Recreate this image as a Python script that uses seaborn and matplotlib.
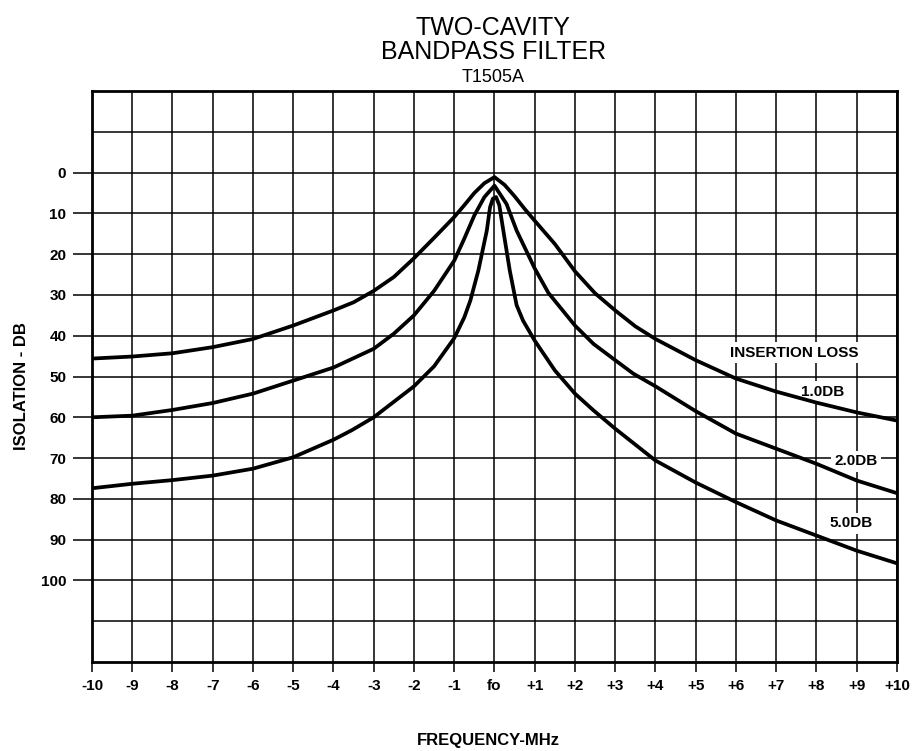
import pandas as pd
import numpy as np
import seaborn as sns
import matplotlib.pyplot as plt

freq_1db = [-10, -9, -8, -7, -6, -5, -4, -3.5, -3, -2.5, -2, -1.5, -1, -0.75, -0.5, -0.25, 0,
            0.25, 0.5, 0.75, 1, 1.5, 2, 2.5, 3, 3.5, 4, 5, 6, 7, 8, 9, 10]
iso_1db = [45.6, 45.1, 44.3, 42.8, 40.8, 37.5, 33.8, 31.8, 29.0, 25.6, 21.0, 16.0, 10.9, 8.0, 5.0, 2.6, 1.1,
           3.0, 5.8, 8.9, 11.8, 17.5, 24.2, 29.6, 33.8, 37.7, 40.8, 46.0, 50.5, 53.7, 56.4, 58.8, 60.8]

freq_2db = [-10, -9, -8, -7, -6, -5, -4, -3, -2.5, -2, -1.5, -1, -0.75, -0.5, -0.25, 0,
            0.3, 0.55, 1, 1.34, 2, 2.46, 3, 3.45, 4, 5, 6, 7, 8, 9, 10]
iso_2db = [60.0, 59.6, 58.2, 56.5, 54.2, 51.0, 47.8, 43.2, 39.5, 35.0, 29.0, 21.6, 16.2, 10.5, 6.0, 3.2,
           7.7, 14.2, 23.5, 29.5, 37.5, 42.0, 46.0, 49.3, 52.4, 58.5, 64.0, 67.7, 71.4, 75.5, 78.6]

freq_5db = [-10, -9, -8, -7, -6, -5, -4, -3.55, -3, -2, -1.5, -1, -0.75, -0.6, -0.4, -0.19, -0.11, -0.04,
            0.04, 0.12, 0.22, 0.38, 0.55, 0.71, 1, 1.5, 2, 2.46, 3, 4, 5, 6, 7, 8, 9, 10]
iso_5db = [77.4, 76.3, 75.4, 74.3, 72.6, 69.8, 65.5, 63.2, 60.0, 52.4, 47.5, 40.6, 35.5, 31.4, 24.0, 14.2, 8.5, 6.4,
           6.0, 8.0, 14.2, 24.0, 32.5, 36.3, 41.2, 48.5, 54.2, 58.3, 62.8, 70.6, 76.0, 80.8, 85.3, 89.0, 92.7, 95.8]

curve_names = ["1.0DB", "2.0DB", "5.0DB"]

x_ticks = list(range(-10, 11))
x_tick_labels = ["-10", "-9", "-8", "-7", "-6", "-5", "-4", "-3", "-2", "-1", "fo",
                 "+1", "+2", "+3", "+4", "+5", "+6", "+7", "+8", "+9", "+10"]
y_ticks = list(range(0, 101, 10))

# **Build long table for seaborn**
data = pd.concat([
    pd.DataFrame({"freq": freq_1db, "iso": iso_1db, "curve": curve_names[0]}),
    pd.DataFrame({"freq": freq_2db, "iso": iso_2db, "curve": curve_names[1]}),
    pd.DataFrame({"freq": freq_5db, "iso": iso_5db, "curve": curve_names[2]}),
], ignore_index=True)

sns.set_style("white")
plt.rcParams['font.family'] = ['Liberation Sans', 'DejaVu Sans']
plt.rcParams['text.color'] = 'black'
plt.rcParams['xtick.color'] = 'black'
plt.rcParams['ytick.color'] = 'black'
plt.rcParams['axes.labelcolor'] = 'black'

fig, ax = plt.subplots(figsize=(9.15, 7.51), dpi=100)
fig.subplots_adjust(left=0.1005, right=0.9803, bottom=0.1185, top=0.8788)

sns.lineplot(data=data, x="freq", y="iso", hue="curve", palette=["black"] * 3,
             linewidth=2.7, legend=False, estimator=None, ax=ax, zorder=3)

ax.set_xlim(-10, 10)
ax.set_ylim(120, -20)
ax.set_axisbelow(True)

ax.set_xticks(x_ticks)
ax.set_xticklabels(x_tick_labels, fontsize=11, fontweight="bold")
ax.set_yticks(y_ticks)
ax.set_yticklabels([str(v) for v in y_ticks], fontsize=11, fontweight="bold")
ax.set_yticks([-10, 110], minor=True)

ax.grid(True, which="both", color="black", linewidth=1.1)
ax.tick_params(axis="x", which="major", direction="out", length=7.5, width=1.1,
               pad=5, bottom=True)
ax.tick_params(axis="y", which="major", direction="out", length=13.5, width=1.1,
               pad=5, left=True)
ax.tick_params(which="minor", length=0)

for side in ax.spines.values():
    side.set_color("black")
    side.set_linewidth(2.0)

ax.set_xlabel("")
ax.set_ylabel("ISOLATION - DB", fontsize=12, fontweight="bold")
ax.yaxis.set_label_coords(-0.078, 0.483)

# **Title block**
fig.text(0.539, 0.9534, "TWO-CAVITY", ha="center", va="baseline", fontsize=18)
fig.text(0.539, 0.921, "BANDPASS FILTER", ha="center", va="baseline", fontsize=18)
fig.text(0.539, 0.8908, "T1505A", ha="center", va="baseline", fontsize=13)
fig.text(0.534, 0.008, "FREQUENCY-MHz", ha="center", va="baseline",
         fontsize=12, fontweight="bold")

# **Curve labels**
box = dict(facecolor="white", edgecolor="none", pad=2.5)
ax.text(7.44, 44.2, "INSERTION LOSS", ha="center", va="center", fontsize=11,
        fontweight="bold", bbox=box, zorder=2.5)
ax.text(8.16, 53.7, curve_names[0], ha="center", va="center", fontsize=11,
        fontweight="bold", bbox=box, zorder=2.5)
ax.text(8.99, 70.8, curve_names[1], ha="center", va="center", fontsize=11,
        fontweight="bold", bbox=box, zorder=2.5)
ax.text(8.86, 86.0, curve_names[2], ha="center", va="center", fontsize=11,
        fontweight="bold", bbox=box, zorder=2.5)

fig.savefig("out.png", dpi=100, facecolor="white")
